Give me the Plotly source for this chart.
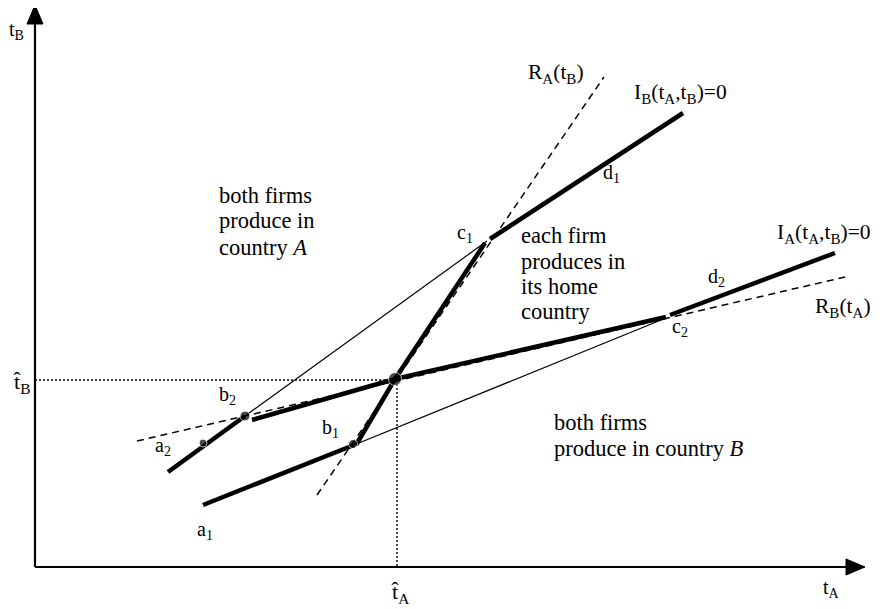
import plotly.graph_objects as go

# ---- data (t_A, t_B units; origin at the axes corner) ----
# thick indifference-curve segments: [x0, x1], [y0, y1]
thick_x = [[133, 210], [217, 360], [360, 631], [635, 800],
           [168, 319], [321, 360], [360, 450], [455, 648]]
thick_y = [[95, 151], [147, 188], [188, 250], [252, 314],
           [62, 122], [122, 188], [188, 324], [328, 454]]
# dashed reaction functions R_A(t_B), R_B(t_A)
dash_x = [[282, 569], [102, 810]]
dash_y = [[72, 490], [126, 290]]
# thin connecting lines b2-c1, b1-c2
thin_x = [[210, 452], [319, 631]]
thin_y = [[151, 326], [122, 249]]
# equilibrium t-hat
t_hat_A = 362
t_hat_B = 187
# marked points
dot_x = [210, 168, 360, 318]
dot_y = [151, 124, 188, 123]
dot_size = [10, 8, 13, 9]
# axis lengths
x_axis_end = 830
y_axis_end = 562

# point labels
pt_labels = ["a<sub>1</sub>", "b<sub>1</sub>", "c<sub>1</sub>", "d<sub>1</sub>",
             "a<sub>2</sub>", "b<sub>2</sub>", "c<sub>2</sub>", "d<sub>2</sub>"]
pt_lx = [170, 295, 430, 576, 128, 192, 645, 681]
pt_ly = [37, 139, 334, 394, 121, 172, 240, 290]

curve_labels = ["R<sub>A</sub>(t<sub>B</sub>)", "I<sub>B</sub>(t<sub>A</sub>,t<sub>B</sub>)=0",
                "I<sub>A</sub>(t<sub>A</sub>,t<sub>B</sub>)=0", "R<sub>B</sub>(t<sub>A</sub>)"]
curve_lx = [521, 645, 789, 808]
curve_ly = [494, 474, 334, 260]

# region texts, one entry per line
region_lines = ["both firms", "produce in", "country <i>A</i>",
                "each firm", "produces in", "its home", "country",
                "both firms", "produce in country <i>B</i>"]
region_x = [182, 182, 182, 484, 484, 484, 484, 517, 517]
region_y = [372, 347, 320, 332, 306, 281, 256, 145, 119]

FONT = "Liberation Serif, Times New Roman, serif"

fig = go.Figure()

for xs, ys in zip(thin_x, thin_y):
    fig.add_trace(go.Scatter(x=xs, y=ys, mode="lines",
                             line=dict(color="black", width=1.2),
                             hoverinfo="skip", showlegend=False))
for xs, ys in zip(dash_x, dash_y):
    fig.add_trace(go.Scatter(x=xs, y=ys, mode="lines",
                             line=dict(color="black", width=1.5, dash="7px,5px"),
                             hoverinfo="skip", showlegend=False))
for xs, ys in zip(thick_x, thick_y):
    fig.add_trace(go.Scatter(x=xs, y=ys, mode="lines",
                             line=dict(color="black", width=4.5),
                             hoverinfo="skip", showlegend=False))

# dotted guides
fig.add_trace(go.Scatter(x=[0, t_hat_A - 2], y=[t_hat_B, t_hat_B], mode="lines",
                         line=dict(color="black", width=1.4, dash="2px,2px"),
                         hoverinfo="skip", showlegend=False))
fig.add_trace(go.Scatter(x=[t_hat_A, t_hat_A], y=[t_hat_B, 0], mode="lines",
                         line=dict(color="black", width=1.4, dash="2px,2px"),
                         hoverinfo="skip", showlegend=False))

fig.add_trace(go.Scatter(x=dot_x, y=dot_y, mode="markers",
                         marker=dict(color="black", size=dot_size),
                         hoverinfo="skip", showlegend=False))

# axes with arrowheads
fig.add_trace(go.Scatter(x=[0, 0], y=[0, y_axis_end - 18], mode="lines",
                         line=dict(color="black", width=2.2),
                         hoverinfo="skip", showlegend=False))
fig.add_trace(go.Scatter(x=[0, x_axis_end - 18], y=[0, 0], mode="lines",
                         line=dict(color="black", width=2.2),
                         hoverinfo="skip", showlegend=False))
fig.add_trace(go.Scatter(x=[-8, 0, 8, -8], y=[y_axis_end - 19, y_axis_end, y_axis_end - 19, y_axis_end - 19],
                         mode="lines", fill="toself", fillcolor="black",
                         line=dict(color="black", width=1),
                         hoverinfo="skip", showlegend=False))
fig.add_trace(go.Scatter(x=[x_axis_end - 19, x_axis_end, x_axis_end - 19, x_axis_end - 19], y=[-8, 0, 8, -8],
                         mode="lines", fill="toself", fillcolor="black",
                         line=dict(color="black", width=1),
                         hoverinfo="skip", showlegend=False))

def add_text(x, y, text, xanchor="center", size=20):
    fig.add_annotation(x=x, y=y, text=text, showarrow=False, xanchor=xanchor,
                       yanchor="middle", align="left",
                       font=dict(family=FONT, size=size, color="black"))

for t, x, y in zip(pt_labels, pt_lx, pt_ly):
    add_text(x, y, t)
for t, x, y in zip(curve_labels, curve_lx, curve_ly):
    add_text(x, y, t, size=21.5)
for t, x, y in zip(region_lines, region_x, region_y):
    add_text(x, y, t, xanchor="left", size=22.5)

add_text(-19, 537, "t<sub>B</sub>")
add_text(796, -21, "t<sub>A</sub>")
add_text(-14, 184, "t\u0302<sub>B</sub>", size=22)
add_text(t_hat_A + 3, -26, "t\u0302<sub>A</sub>", size=22)

# page body has an 8px margin: size the figure so that it fits the window
fig.update_layout(
    width=872, height=601, autosize=False,
    margin=dict(l=0, r=0, t=0, b=0),
    paper_bgcolor="white", plot_bgcolor="white",
    xaxis=dict(range=[-27, 845], visible=False, fixedrange=True),
    yaxis=dict(range=[-42, 559], visible=False, fixedrange=True),
    showlegend=False,
)

fig.write_html("out.html")
